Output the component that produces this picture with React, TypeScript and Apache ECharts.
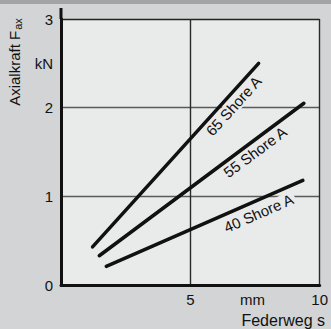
import React, { useEffect, useRef } from "react";
import * as echarts from "echarts";

// Data (x in mm, y in kN)
const seriesNames = ["65 Shore A", "55 Shore A", "40 Shore A"];
const shore65 = [[1.22, 0.43], [7.64, 2.5]];
const shore55 = [[1.48, 0.33], [9.39, 2.05]];
const shore40 = [[1.75, 0.21], [9.35, 1.18]];
const xTickValues = [5, 10];
const yTickValues = [0, 1, 2, 3];
const xUnit = "mm";
const yUnit = "kN";
const xTitle = "Federweg s";
const yTitleMain = "Axialkraft F";
const yTitleSub = "ax";
// label anchor points (data coords) for the series names
const labelAnchors = [[6.67, 2.02], [7.5, 1.5], [7.64, 0.81]];

const FONT = "'Liberation Sans', Arial, Helvetica, sans-serif";
const PLOT_BG = "#e9eaea";
const TEXT = "#111";

export default function App() {
  const ref = useRef<HTMLDivElement>(null);

  useEffect(() => {
    if (!ref.current) return;
    const chart = echarts.init(ref.current, undefined, { renderer: "svg" });
    const allSeries = [shore65, shore55, shore40];

    chart.setOption({
      animation: false,
      backgroundColor: "#d3d4d5",
      textStyle: { fontFamily: FONT },
      grid: {
        left: 61,
        right: 7,
        top: 19,
        bottom: 44,
        show: true,
        backgroundColor: PLOT_BG,
        borderWidth: 0,
      },
      xAxis: {
        type: "value",
        min: 0,
        max: 10,
        interval: 5,
        axisLine: { show: true, onZero: false, lineStyle: { color: "#111", width: 3 } },
        axisTick: { show: false },
        axisLabel: {
          margin: 7,
          fontSize: 15,
          color: TEXT,
          fontFamily: FONT,
          showMaxLabel: true,
          formatter: (v: number) => (xTickValues.includes(v) ? String(v) : ""),
        },
        splitLine: { show: true, lineStyle: { color: "#2a2a2a", width: 1.4 } },
      },
      yAxis: {
        type: "value",
        min: 0,
        max: 3,
        interval: 1,
        axisLine: { show: true, onZero: false, lineStyle: { color: "#111", width: 3 } },
        axisTick: { show: false },
        axisLabel: {
          margin: 8,
          fontSize: 15,
          color: TEXT,
          fontFamily: FONT,
          formatter: (v: number) => (yTickValues.includes(v) ? String(v) : ""),
        },
        splitLine: {
          show: true,
          lineStyle: { color: ["#222", "#5a5a5a", "#5a5a5a", "#222"], width: 1.3 },
        },
      },
      series: allSeries.map((d, i) => ({
        type: "line",
        name: seriesNames[i],
        data: d,
        symbol: "none",
        z: 3,
        lineStyle: { color: "#111", width: 3.5, cap: "round" },
      })),
    });

    const px = (p: number[]) => chart.convertToPixel({ gridIndex: 0 }, p) as number[];
    const topLeft = px([0, 3]);
    const origin = px([0, 0]);

    const labelGraphics = allSeries.map((d, i) => {
      const p0 = px(d[0]);
      const p1 = px(d[d.length - 1]);
      const angle = Math.atan2(p0[1] - p1[1], p1[0] - p0[0]);
      const a = px(labelAnchors[i]);
      return {
        type: "text",
        x: a[0],
        y: a[1],
        rotation: angle,
        z: 2,
        style: {
          text: seriesNames[i],
          x: 0,
          y: 0,
          fontSize: 15,
          fontFamily: FONT,
          fill: TEXT,
          align: "center",
          verticalAlign: "middle",
          backgroundColor: PLOT_BG,
          padding: [0, 2],
        },
      };
    });

    const kN = px([0, 2.5]);
    const mm = px([7.4, 0]);

    chart.setOption({
      graphic: [
        {
          type: "rect",
          shape: { x: 0, y: 0, width: 331, height: 4 },
          style: { fill: "#a3a4a5" },
          z: 1,
        },
        {
          type: "line",
          shape: { x1: topLeft[0], y1: topLeft[1] - 11, x2: topLeft[0], y2: topLeft[1] },
          style: { stroke: "#111", lineWidth: 3 },
          z: 5,
        },
        ...labelGraphics,
        {
          type: "text",
          x: kN[0] - 8,
          y: kN[1],
          style: {
            text: yUnit,
            fontSize: 15,
            fontFamily: FONT,
            fill: TEXT,
            align: "right",
            verticalAlign: "middle",
          },
        },
        {
          type: "text",
          x: mm[0],
          y: origin[1] + 14,
          style: {
            text: xUnit,
            fontSize: 15,
            fontFamily: FONT,
            fill: TEXT,
            align: "center",
            verticalAlign: "middle",
          },
        },
        {
          type: "text",
          x: 325,
          y: 320,
          style: {
            text: xTitle,
            fontSize: 16,
            fontFamily: FONT,
            fill: TEXT,
            align: "right",
            verticalAlign: "middle",
          },
        },
        {
          type: "text",
          x: 14,
          y: 62,
          rotation: Math.PI / 2,
          style: {
            text: `{a|${yTitleMain}}{b|${yTitleSub}}`,
            x: 0,
            y: 0,
            align: "center",
            verticalAlign: "middle",
            fill: TEXT,
            rich: {
              a: { fontSize: 15, fontFamily: FONT, fill: TEXT, lineHeight: 18, verticalAlign: "middle" },
              b: { fontSize: 11, fontFamily: FONT, fill: TEXT, lineHeight: 18, verticalAlign: "bottom", padding: [6, 0, 0, 1] },
            },
          },
        },
      ],
    });

    return () => chart.dispose();
  }, []);

  return (
    <div
      ref={ref}
      style={{ position: "fixed", left: 0, top: 0, width: 331, height: 329 }}
    />
  );
}
